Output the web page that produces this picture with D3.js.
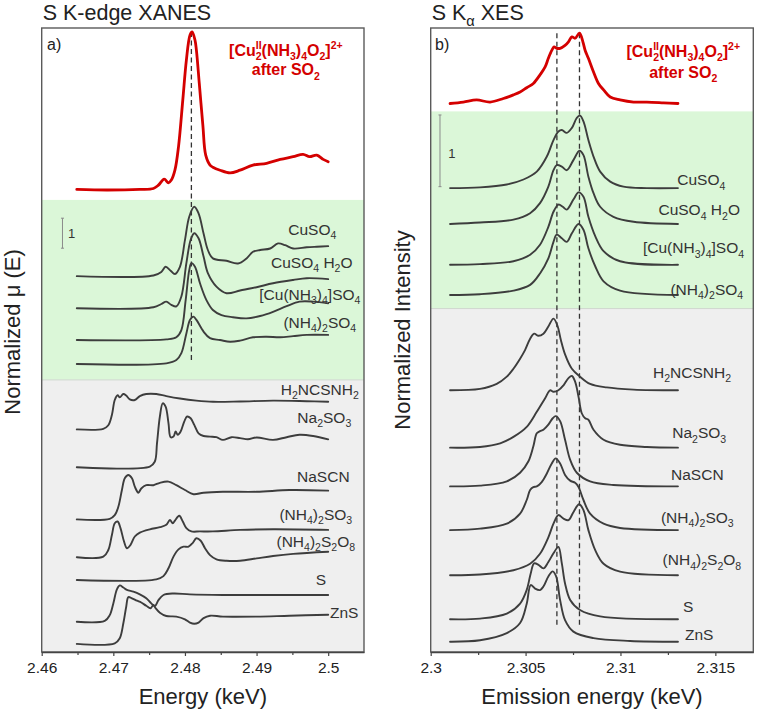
<!DOCTYPE html>
<html><head><meta charset="utf-8">
<script src="https://cdn.jsdelivr.net/npm/d3@7"></script>
<style>body{margin:0;background:#fff}svg{display:block;font-family:"Liberation Sans",Arial,Helvetica,sans-serif}</style>
</head><body><svg id="chart" width="757" height="712"></svg>
<script>
// ---------------- DATA: panel a) S K-edge XANES ----------------
const xanesTicks = [2.46, 2.47, 2.48, 2.49, 2.5];
const xanesTickLabels = ["2.46", "2.47", "2.48", "2.49", "2.5"];
const xanesMinor = [2.465, 2.475, 2.485, 2.495];

const xanesNames = ["[Cu^{II}_{2}(NH_{3})_{4}O_{2}]^{2+}", "CuSO_{4}", "CuSO_{4} H_{2}O", "[Cu(NH_{3})_{4}]SO_{4}", "(NH_{4})_{2}SO_{4}",
  "H_{2}NCSNH_{2}", "Na_{2}SO_{3}", "NaSCN", "(NH_{4})_{2}SO_{3}", "(NH_{4})_{2}S_{2}O_{8}", "S", "ZnS"];
const xanesOffsets = [15.42, 12.53, 11.46, 10.4, 9.6, 7.42, 6.16, 4.42, 3.16, 2.4, 1.01, 0.27];

const xanesRed = [[2.4649,0],[2.4691,-0.02],[2.4737,0],[2.4756,0.03],[2.4763,0.14],[2.4771,0.34],[2.4777,0.22],[2.4781,0.31],[2.4786,0.64],[2.4791,1.42],[2.4797,2.98],[2.4802,4.31],[2.4807,5.14],[2.4810,5.25],[2.4814,4.98],[2.4816,4.64],[2.4820,3.54],[2.4825,2.14],[2.4829,1.14],[2.4835,0.81],[2.4839,0.74],[2.4849,0.64],[2.4863,0.55],[2.4877,0.64],[2.4895,0.81],[2.4914,0.87],[2.4933,1.0],[2.4951,1.09],[2.4965,1.17],[2.4974,1.09],[2.4984,1.14],[2.4993,1.0],[2.5000,0.92]];
const xanesCuSO4 = [[2.4649,0],[2.4756,0.02],[2.4767,0.14],[2.4773,0.31],[2.4780,0.18],[2.4786,0.07],[2.4793,0.31],[2.4800,1.2],[2.4806,1.98],[2.4813,2.31],[2.4819,2.09],[2.4826,1.42],[2.4832,0.87],[2.4839,0.59],[2.4858,0.51],[2.4874,0.42],[2.4886,0.59],[2.4895,0.81],[2.4905,0.87],[2.4919,0.92],[2.4930,1.09],[2.4940,1.03],[2.4951,0.92],[2.4970,0.96],[2.4984,0.98],[2.5000,1.0]];
const xanesCuSO4H2O = [[2.4649,0],[2.4756,0.03],[2.4767,0.14],[2.4774,0.22],[2.4781,0.11],[2.4788,0.06],[2.4795,0.39],[2.4802,1.5],[2.4808,2.28],[2.4813,2.5],[2.4819,2.33],[2.4826,1.72],[2.4832,1.17],[2.4844,0.72],[2.4858,0.5],[2.4877,0.59],[2.4900,0.7],[2.4923,0.83],[2.4951,0.94],[2.4970,1.0],[2.5000,0.97]];
const xanesCuNH3 = [[2.4649,0],[2.4774,0.02],[2.4788,0.09],[2.4795,0.33],[2.4801,1.33],[2.4806,2.33],[2.4809,2.56],[2.4814,2.44],[2.4821,1.89],[2.4830,1.33],[2.4839,1.0],[2.4851,0.83],[2.4867,0.76],[2.4886,0.72],[2.4905,0.8],[2.4923,0.94],[2.4942,1.13],[2.4960,1.28],[2.4979,1.28],[2.5000,1.22]];
const xanesNH4SO4 = [[2.4649,0],[2.4774,0.02],[2.4788,0.13],[2.4795,0.36],[2.4802,1.02],[2.4807,1.47],[2.4812,1.58],[2.4816,1.47],[2.4826,1.08],[2.4835,0.86],[2.4849,0.8],[2.4863,0.74],[2.4877,0.78],[2.4895,0.89],[2.4914,0.91],[2.4933,0.89],[2.4951,0.93],[2.4970,0.97],[2.5000,0.97]];
const xanesThiourea = [[2.4649,0],[2.4686,0.02],[2.4693,0.14],[2.4698,0.48],[2.4702,0.98],[2.4706,1.14],[2.4709,1.07],[2.4714,1.18],[2.4718,1.13],[2.4723,1.0],[2.4730,0.98],[2.4737,1.11],[2.4746,1.18],[2.4760,1.18],[2.4774,1.11],[2.4793,1.03],[2.4816,0.96],[2.4839,0.92],[2.4877,0.93],[2.4923,0.96],[2.4970,0.94],[2.5000,0.92]];
const xanesNa2SO3 = [[2.4649,0],[2.4751,0.02],[2.4758,0.19],[2.4761,0.8],[2.4765,1.69],[2.4769,2.13],[2.4773,2.02],[2.4777,1.47],[2.4780,1.0],[2.4784,1.02],[2.4787,1.19],[2.4790,1.08],[2.4794,1.19],[2.4799,1.52],[2.4803,1.69],[2.4808,1.63],[2.4813,1.41],[2.4819,1.13],[2.4826,1.04],[2.4835,1.02],[2.4844,1.0],[2.4853,0.91],[2.4865,1.0],[2.4877,0.97],[2.4888,0.93],[2.4900,0.99],[2.4923,0.91],[2.4942,1.0],[2.4960,1.08],[2.4979,1.04],[2.5000,0.93]];
const xanesNaSCN = [[2.4649,0],[2.4695,0.02],[2.4702,0.14],[2.4707,0.42],[2.4712,0.98],[2.4716,1.37],[2.4721,1.48],[2.4726,1.37],[2.4730,1.09],[2.4735,0.89],[2.4739,1.03],[2.4746,1.14],[2.4756,1.14],[2.4765,1.22],[2.4777,1.26],[2.4788,1.14],[2.4800,0.98],[2.4812,0.84],[2.4826,0.89],[2.4853,0.92],[2.4900,0.92],[2.4946,0.98],[2.5000,0.96]];
const xanesNH4SO3 = [[2.4649,0],[2.4686,0.02],[2.4693,0.24],[2.4698,0.74],[2.4702,1.13],[2.4706,1.19],[2.4710,0.97],[2.4715,0.52],[2.4719,0.3],[2.4724,0.41],[2.4730,0.69],[2.4737,0.82],[2.4751,0.93],[2.4765,1.0],[2.4774,1.08],[2.4779,1.24],[2.4783,1.13],[2.4786,1.22],[2.4792,1.38],[2.4797,1.19],[2.4802,0.97],[2.4809,0.86],[2.4821,0.86],[2.4839,0.86],[2.4877,0.91],[2.4923,0.93],[2.5000,0.91]];
const xanesS2O8 = [[2.4649,0],[2.4760,0.02],[2.4770,0.13],[2.4777,0.39],[2.4784,0.78],[2.4791,1.02],[2.4798,1.11],[2.4805,1.11],[2.4811,1.24],[2.4816,1.39],[2.4822,1.31],[2.4828,1.06],[2.4835,0.83],[2.4844,0.69],[2.4858,0.64],[2.4877,0.64],[2.4900,0.72],[2.4923,0.8],[2.4951,0.87],[2.5000,0.94]];
const xanesS = [[2.4649,0],[2.4688,0.03],[2.4695,0.22],[2.4700,0.61],[2.4705,1.08],[2.4709,1.21],[2.4714,1.14],[2.4719,1.06],[2.4728,1.0],[2.4737,0.91],[2.4746,0.78],[2.4753,0.61],[2.4758,0.52],[2.4763,0.72],[2.4770,0.89],[2.4784,0.94],[2.4807,0.91],[2.4853,0.89],[2.4923,0.89],[2.5000,0.89]];
const xanesZnS = [[2.4649,0],[2.4702,0.02],[2.4709,0.19],[2.4714,0.69],[2.4718,1.24],[2.4721,1.56],[2.4726,1.52],[2.4733,1.44],[2.4739,1.38],[2.4746,1.27],[2.4752,1.19],[2.4756,1.3],[2.4759,1.19],[2.4765,1.04],[2.4774,0.93],[2.4788,0.91],[2.4800,0.82],[2.4807,0.71],[2.4813,0.67],[2.4819,0.71],[2.4826,0.86],[2.4835,0.94],[2.4853,0.91],[2.4900,0.91],[2.4946,0.94],[2.5000,0.97]];
const xanesSeries = [xanesRed, xanesCuSO4, xanesCuSO4H2O, xanesCuNH3, xanesNH4SO4, xanesThiourea, xanesNa2SO3, xanesNaSCN, xanesNH4SO3, xanesS2O8, xanesS, xanesZnS];

// ---------------- DATA: panel b) S Kα XES ----------------
const xesTicks = [2.3, 2.305, 2.31, 2.315];
const xesTickLabels = ["2.3", "2.305", "2.31", "2.315"];
const xesMinor = [2.3025, 2.3075, 2.3125];
const xesNames = xanesNames;
const xesOffsets = [7.65, 6.47, 5.97, 5.40, 4.98, 3.65, 2.85, 2.31, 1.70, 1.07, 0.456, 0.144];

const xesRed = [[2.30102,0],[2.30172,0.02],[2.30242,0.05],[2.30313,0.02],[2.30383,0.07],[2.30436,0.12],[2.30471,0.16],[2.30506,0.22],[2.30541,0.28],[2.30576,0.40],[2.30603,0.51],[2.3062,0.63],[2.30638,0.74],[2.3065,0.79],[2.30664,0.77],[2.30682,0.77],[2.30708,0.81],[2.30726,0.86],[2.30744,0.93],[2.30761,0.91],[2.30784,0.98],[2.30802,0.86],[2.30814,0.74],[2.30831,0.63],[2.30858,0.44],[2.30884,0.28],[2.30911,0.19],[2.30946,0.09],[2.30998,0.05],[2.31069,0.02],[2.31139,0.02],[2.31227,0.01],[2.31303,0]];
const xesCuSO4 = [[2.30102,0],[2.3026,0.01],[2.30401,0.05],[2.30489,0.12],[2.30559,0.23],[2.30612,0.44],[2.30647,0.67],[2.30673,0.79],[2.30691,0.81],[2.30717,0.77],[2.30744,0.84],[2.3077,0.98],[2.30787,1.01],[2.30805,0.93],[2.30831,0.67],[2.30858,0.44],[2.30893,0.23],[2.30946,0.09],[2.31016,0.02],[2.31139,0],[2.31303,0]];
const xesCuSO4H2O = [[2.30102,0],[2.3026,0.02],[2.30436,0.06],[2.30524,0.15],[2.30576,0.29],[2.3062,0.52],[2.30647,0.75],[2.30664,0.82],[2.30691,0.8],[2.30717,0.75],[2.30752,0.89],[2.30784,1.02],[2.30805,0.96],[2.30831,0.66],[2.30858,0.43],[2.30893,0.24],[2.30963,0.1],[2.31069,0.03],[2.31303,0]];
const xesCuNH3 = [[2.30102,0],[2.3026,0.01],[2.30436,0.05],[2.30524,0.14],[2.30576,0.28],[2.3062,0.53],[2.30647,0.74],[2.30673,0.84],[2.30696,0.81],[2.30717,0.77],[2.30752,0.91],[2.30779,1.01],[2.30805,0.95],[2.30831,0.67],[2.30867,0.4],[2.30911,0.19],[2.30998,0.05],[2.31303,0]];
const xesNH4SO4 = [[2.30102,0],[2.3026,0.01],[2.30436,0.06],[2.30524,0.14],[2.30576,0.3],[2.3062,0.51],[2.30647,0.74],[2.30664,0.84],[2.30691,0.79],[2.30717,0.74],[2.30744,0.86],[2.30779,0.99],[2.30805,0.91],[2.30831,0.65],[2.30867,0.4],[2.30911,0.19],[2.30998,0.06],[2.31303,0]];
const xesThiourea = [[2.30102,0],[2.3026,0.02],[2.30348,0.09],[2.30401,0.19],[2.30436,0.3],[2.30471,0.44],[2.30497,0.56],[2.30524,0.72],[2.30545,0.79],[2.30568,0.76],[2.30594,0.79],[2.3062,0.89],[2.30647,1.0],[2.30668,0.9],[2.30686,0.7],[2.30708,0.5],[2.30744,0.3],[2.30787,0.19],[2.3084,0.09],[2.30928,0.04],[2.31069,0.01],[2.31303,0]];
const xesNa2SO3 = [[2.30102,0],[2.3026,0.01],[2.30366,0.06],[2.30436,0.15],[2.30506,0.29],[2.30559,0.5],[2.30603,0.69],[2.30629,0.8],[2.30647,0.78],[2.30673,0.8],[2.307,0.87],[2.30726,0.97],[2.30744,1.0],[2.30761,0.92],[2.30779,0.71],[2.30796,0.48],[2.30814,0.41],[2.30831,0.39],[2.30858,0.25],[2.30911,0.11],[2.30998,0.04],[2.31139,0.01],[2.31303,0]];
const xesNaSCN = [[2.30102,0],[2.3026,0.01],[2.30401,0.07],[2.30471,0.19],[2.30515,0.35],[2.30541,0.56],[2.30559,0.74],[2.30576,0.77],[2.30594,0.79],[2.3062,0.86],[2.30643,0.95],[2.30659,0.98],[2.30682,0.91],[2.30708,0.65],[2.30735,0.37],[2.3077,0.19],[2.3084,0.07],[2.30963,0.02],[2.31303,0]];
const xesNH4SO3 = [[2.30102,0],[2.3026,0.02],[2.30401,0.09],[2.30471,0.23],[2.30506,0.42],[2.30524,0.56],[2.30541,0.6],[2.30559,0.61],[2.30585,0.67],[2.30612,0.79],[2.30638,0.93],[2.30659,1.0],[2.30682,0.93],[2.30708,0.77],[2.30735,0.69],[2.30761,0.66],[2.30779,0.6],[2.30805,0.42],[2.3084,0.23],[2.30911,0.09],[2.30998,0.03],[2.31303,0]];
const xesS2O8 = [[2.30102,0],[2.3026,0.01],[2.30436,0.07],[2.30524,0.16],[2.30576,0.3],[2.3062,0.53],[2.30647,0.72],[2.30673,0.84],[2.307,0.79],[2.30726,0.77],[2.30752,0.88],[2.30782,0.99],[2.30805,0.91],[2.30831,0.63],[2.30867,0.35],[2.30911,0.16],[2.30998,0.05],[2.31303,0]];
const xesS = [[2.30102,0],[2.3026,0.01],[2.30401,0.08],[2.30471,0.22],[2.30506,0.41],[2.30527,0.64],[2.30545,0.78],[2.30568,0.76],[2.30594,0.71],[2.3062,0.8],[2.30647,0.92],[2.30673,1.01],[2.30691,0.78],[2.30708,0.5],[2.30735,0.27],[2.30787,0.13],[2.30893,0.04],[2.31303,0]];
const xesZnS = [[2.30102,0],[2.3026,0.02],[2.30401,0.12],[2.30471,0.26],[2.30506,0.53],[2.30527,0.79],[2.3055,0.74],[2.30576,0.72],[2.30594,0.77],[2.3062,0.91],[2.30643,0.98],[2.30661,0.91],[2.30682,0.58],[2.30708,0.3],[2.30752,0.14],[2.30858,0.05],[2.31051,0.01],[2.31303,0]];
const xesSeries = [xesRed, xesCuSO4, xesCuSO4H2O, xesCuNH3, xesNH4SO4, xesThiourea, xesNa2SO3, xesNaSCN, xesNH4SO3, xesS2O8, xesS, xesZnS];

// ---------------- LAYOUT (annotation positions, in data units) ----------------
const panels = [
  { title: "S K-edge XANES", letter: "a)", xTitle: "Energy (keV)", yTitle: "Normalized \u03bc (E)",
    left: 41.7, right: 364, domain: [2.46, 2.505], yMax: 20.8,
    ticks: xanesTicks, tickLabels: xanesTickLabels, minor: xanesMinor,
    series: xanesSeries, offsets: xanesOffsets, names: xanesNames,
    bands: [[9.07, 15.07, "#dbf7d8"], [0, 9.07, "#efefef"]],
    dashes: [[2.4809, 9.73, 20.67]],
    scaleBar: [2.4629, 13.46, 14.46, 2.46419, 13.8],
    letterPos: [2.46074, 20.07],
    redLabel: [2.49409, 19.87, 19.23],
    labels: [null, [2.49778,13.9], [2.49771,12.8], [2.49744,11.73], [2.49883,10.8], [2.49883,8.57], [2.49946,7.63],
             [2.49932,5.67], [2.49827,4.4], [2.49827,3.5], [2.49897,2.23], [2.50025,1.13,"start"]],
    yTitleX: 20, yTitleY: 332 },
  { title: "S K_{\u03b1} XES", letter: "b)", xTitle: "Emission energy (keV)", yTitle: "Normalized Intensity",
    left: 430.7, right: 753.3, domain: [2.3, 2.317], yMax: 8.703,
    ticks: xesTicks, tickLabels: xesTickLabels, minor: xesMinor,
    series: xesSeries, offsets: xesOffsets, names: xesNames,
    bands: [[4.79, 7.54, "#dbf7d8"], [0, 4.79, "#efefef"]],
    dashes: [[2.30665, 0.38, 8.65], [2.30784, 0.38, 8.65]],
    scaleBar: [2.30049, 6.49, 7.49, 2.30111, 6.89],
    letterPos: [2.30023, 8.40],
    redLabel: [2.31331, 8.30, 8.01],
    labels: [null, [2.31426,6.51], [2.31415,6.09], [2.31385,5.56], [2.31455,4.98], [2.31377,3.82], [2.31415,2.98],
             [2.31405,2.4], [2.31405,1.8], [2.31429,1.21], [2.31357,0.56], [2.31415,0.17]],
    yTitleX: 410, yTitleY: 330 }
];

const plotTop = 28, plotBottom = 652;
const svg = d3.select("#chart");
const RED = "#d40000", LINE = "#3d3d3d";

function rich(textSel, str, size) {
  const parts = str.split(/(_\{[^}]*\}|\^\{[^}]*\})/).filter(s => s.length);
  let cur = 0;
  parts.forEach(p => {
    let shift = 0, fs = size, txt = p;
    if (p.startsWith("_{")) { shift = size * 0.28; fs = size * 0.68; txt = p.slice(2, -1); }
    else if (p.startsWith("^{")) { shift = -size * 0.42; fs = size * 0.68; txt = p.slice(2, -1); }
    textSel.append("tspan").attr("dy", shift - cur).attr("font-size", fs).text(txt);
    cur = shift;
  });
}

panels.forEach((P) => {
  const x = d3.scaleLinear().domain(P.domain).range([P.left, P.right]);
  const y = d3.scaleLinear().domain([0, P.yMax]).range([plotBottom, plotTop]);
  const g = svg.append("g");

  P.bands.forEach(b => {
    g.append("rect").attr("x", x(P.domain[0])).attr("width", x(P.domain[1]) - x(P.domain[0]))
      .attr("y", y(b[1])).attr("height", y(b[0]) - y(b[1])).attr("fill", b[2]);
  });
  g.append("line").attr("x1", P.left).attr("x2", P.right).attr("y1", y(P.bands[0][0])).attr("y2", y(P.bands[0][0]))
    .attr("stroke", "#cfd8cf").attr("stroke-width", 1);

  P.dashes.forEach(d => {
    g.append("line").attr("x1", x(d[0])).attr("x2", x(d[0])).attr("y1", y(d[1])).attr("y2", y(d[2]))
      .attr("stroke", "#333").attr("stroke-width", 1.3).attr("stroke-dasharray", "5,3.5");
  });

  P.series.forEach((s, i) => {
    const off = P.offsets[i];
    const line = d3.line().x(d => x(d[0])).y(d => y(d[1] + off)).curve(d3.curveCatmullRom.alpha(0.5));
    g.append("path").attr("d", line(s)).attr("fill", "none")
      .attr("stroke", i === 0 ? RED : LINE).attr("stroke-width", i === 0 ? 2.8 : 1.9)
      .attr("stroke-linejoin", "round").attr("stroke-linecap", "round");
  });

  P.labels.forEach((L, i) => {
    if (!L) return;
    const t = g.append("text").attr("x", x(L[0])).attr("y", y(L[1]))
      .attr("text-anchor", L[2] || "middle").attr("font-size", 15.5).attr("fill", "#333");
    rich(t, P.names[i], 15.5);
  });

  const rl = P.redLabel;
  const t1 = g.append("text").attr("x", x(rl[0])).attr("y", y(rl[1])).attr("text-anchor", "middle")
    .attr("font-size", 16).attr("font-weight", "bold").attr("fill", RED);
  t1.append("tspan").text("[Cu");
  const sub2 = t1.append("tspan").attr("dy", 4.5).attr("font-size", 10.5).text("2");
  const w2 = sub2.node().getComputedTextLength();
  t1.append("tspan").attr("dx", -w2).attr("dy", -11).attr("font-size", 10.5).text("II");
  t1.append("tspan").attr("dy", 6.5).text("(NH");
  t1.append("tspan").attr("dy", 4.5).attr("font-size", 10.5).text("3");
  t1.append("tspan").attr("dy", -4.5).text(")");
  t1.append("tspan").attr("dy", 4.5).attr("font-size", 10.5).text("4");
  t1.append("tspan").attr("dy", -4.5).text("O");
  t1.append("tspan").attr("dy", 4.5).attr("font-size", 10.5).text("2");
  t1.append("tspan").attr("dy", -4.5).text("]");
  t1.append("tspan").attr("dy", -6.5).attr("font-size", 10.5).text("2+");
  const t2 = g.append("text").attr("x", x(rl[0])).attr("y", y(rl[2])).attr("text-anchor", "middle")
    .attr("font-size", 16).attr("font-weight", "bold").attr("fill", RED);
  t2.append("tspan").text("after SO");
  t2.append("tspan").attr("dy", 4.5).attr("font-size", 10.5).text("2");

  const sb = P.scaleBar;
  g.append("line").attr("x1", x(sb[0])).attr("x2", x(sb[0])).attr("y1", y(sb[1])).attr("y2", y(sb[2]))
    .attr("stroke", "#8a8a8a").attr("stroke-width", 1);
  [sb[1], sb[2]].forEach(v => g.append("line").attr("x1", x(sb[0]) - 1.5).attr("x2", x(sb[0]) + 1.5)
    .attr("y1", y(v)).attr("y2", y(v)).attr("stroke", "#8a8a8a").attr("stroke-width", 1));
  g.append("text").attr("x", x(sb[3])).attr("y", y(sb[4])).attr("text-anchor", "middle")
    .attr("font-size", 13).attr("fill", "#333").text("1");

  g.append("text").attr("x", x(P.letterPos[0])).attr("y", y(P.letterPos[1])).attr("font-size", 16)
    .attr("fill", "#222").text(P.letter);

  g.append("rect").attr("x", P.left).attr("y", plotTop).attr("width", P.right - P.left).attr("height", plotBottom - plotTop)
    .attr("fill", "none").attr("stroke", "#5a5a5a").attr("stroke-width", 1.4);

  const ax = g.append("g").attr("transform", `translate(0,${plotBottom})`)
    .call(d3.axisBottom(x).tickValues(P.ticks).tickFormat((d, i) => P.tickLabels[i]).tickSize(4).tickSizeOuter(0).tickPadding(6));
  ax.select(".domain").attr("stroke", "#444").attr("stroke-width", 1.4);
  ax.selectAll(".tick line").attr("stroke", "#444").attr("stroke-width", 1.2);
  ax.selectAll(".tick text").attr("font-size", 15.5).attr("fill", "#222").attr("font-family", "Liberation Sans, Arial, sans-serif");
  const axm = g.append("g").attr("transform", `translate(0,${plotBottom})`)
    .call(d3.axisBottom(x).tickValues(P.minor).tickFormat("").tickSize(3).tickSizeOuter(0));
  axm.select(".domain").remove();
  axm.selectAll(".tick line").attr("stroke", "#444").attr("stroke-width", 1.2);

  g.append("text").attr("x", (P.left + P.right) / 2).attr("y", 704).attr("text-anchor", "middle")
    .attr("font-size", 22).attr("fill", "#222").text(P.xTitle);
  g.append("text").attr("transform", `translate(${P.yTitleX},${P.yTitleY}) rotate(-90)`).attr("text-anchor", "middle")
    .attr("font-size", 22).attr("fill", "#222").text(P.yTitle);

  const tt = g.append("text").attr("x", P.left + 1).attr("y", 20).attr("font-size", 21.5).attr("fill", "#222");
  rich(tt, P.title, 21.5);
});
</script></body></html>
